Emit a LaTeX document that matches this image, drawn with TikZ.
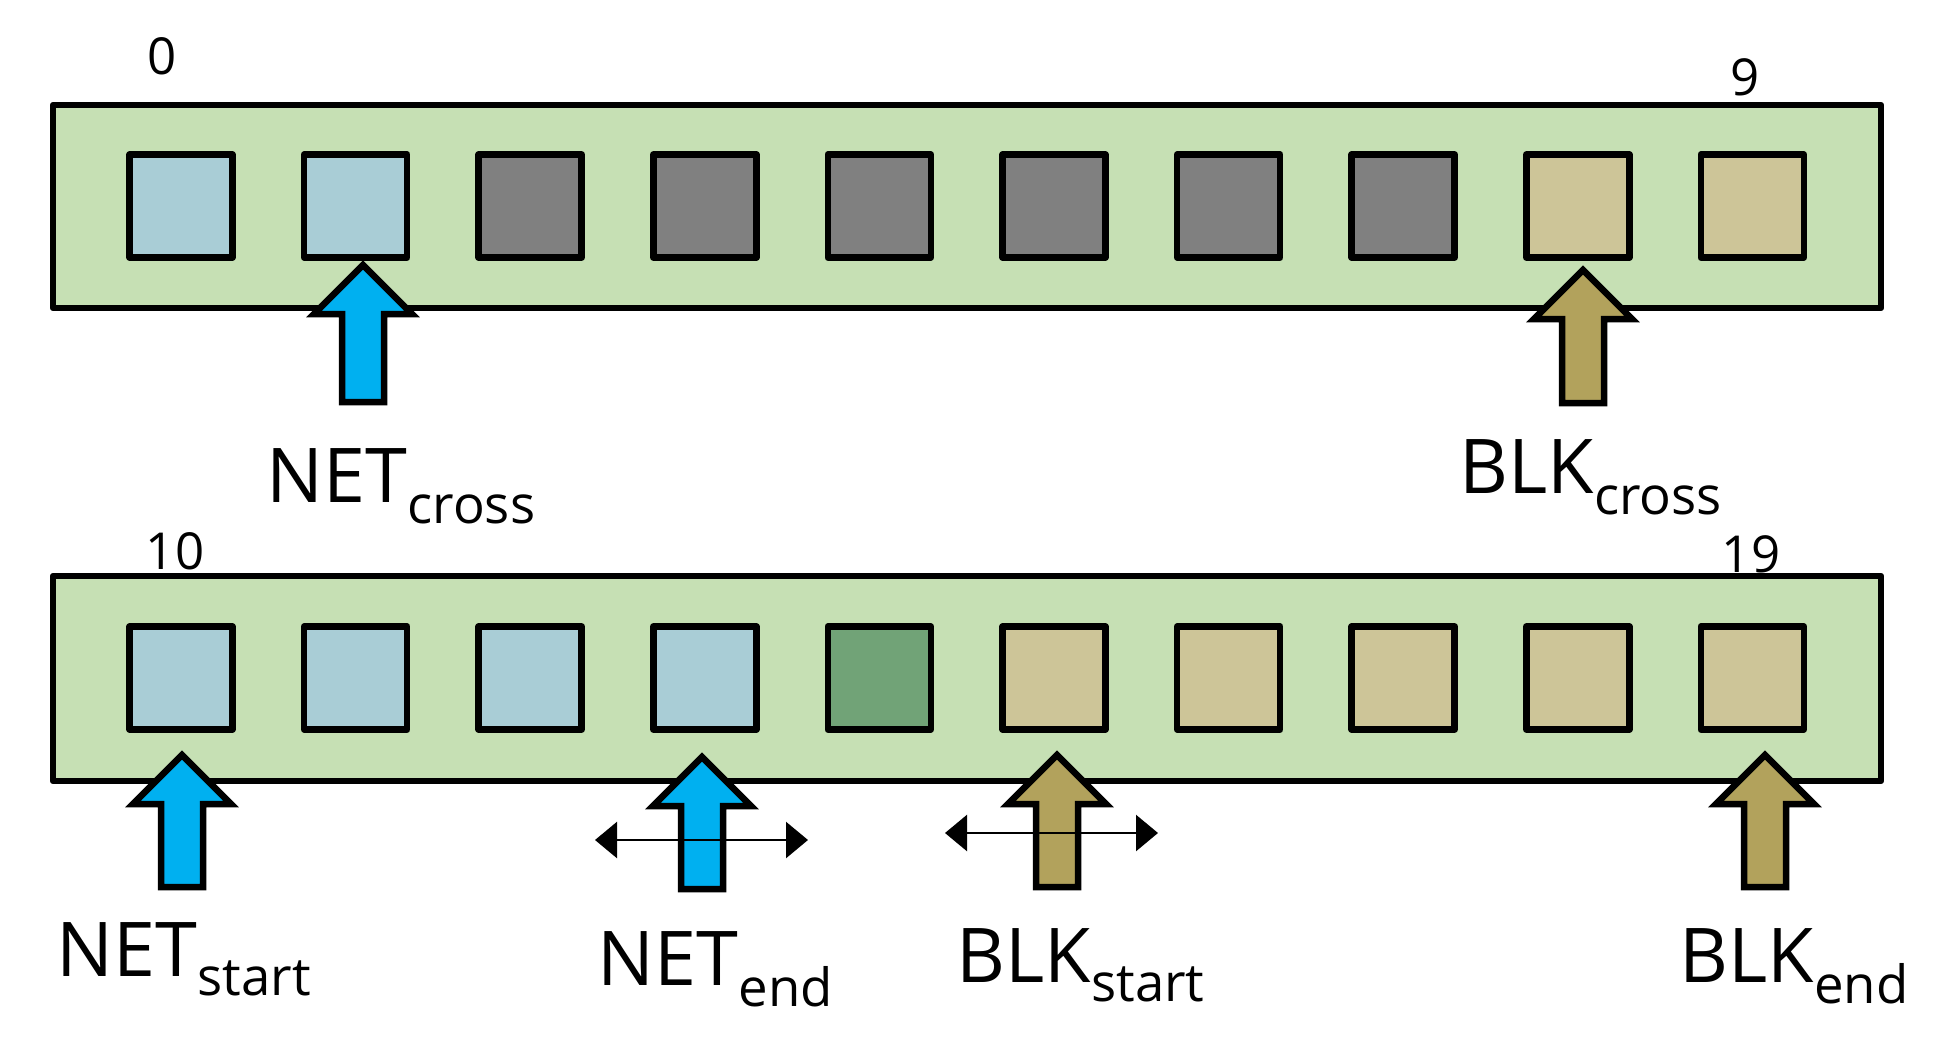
\documentclass[tikz,border=0pt]{standalone}
\usepackage{fontspec}
\setmainfont{Open Sans}
\usetikzlibrary{arrows.meta}

\definecolor{rowgreen}{HTML}{C6E0B4}
\definecolor{netcell}{HTML}{A9CDD6}
\definecolor{blkcell}{HTML}{CDC598}
\definecolor{midcell}{HTML}{71A377}
\definecolor{freecell}{HTML}{808080}
\definecolor{netarrow}{HTML}{00B0F0}
\definecolor{blkarrow}{HTML}{B2A25C}

% block arrow: x of tip, y of tip, y of tail, fill colour
\newcommand{\upblock}[4]{%
  \draw[blockline, fill=#4] (#1,#2) -- ++(49,49) -- ++(-28,0) -- ++(0,{#3-#2-49})
    -- ++(-42,0) -- ++(0,{-(#3-#2-49)}) -- ++(-28,0) -- cycle;}

\begin{document}
\begin{tikzpicture}[x=0.1mm, y=-0.1mm,
    bank/.style={draw, line width=0.65mm, line join=round, fill=rowgreen},
    cell/.style={draw, line width=0.65mm, line join=round, minimum size=10.3mm, inner sep=0pt},
    blockline/.style={line width=0.65mm, line join=miter},
    idx/.style={font=\fontsize{14.5}{17}\selectfont, inner sep=0pt},
    lbl/.style={font=\fontsize{21.5}{26}\selectfont, anchor=base west, inner sep=0pt},
    move/.style={line width=0.7pt, {Triangle[length=2.2mm,width=3.6mm]}-{Triangle[length=2.2mm,width=3.6mm]}}]
    \useasboundingbox (0,0) rectangle (1943,1058);

    % Rangées
    \draw[bank] (53,105) rectangle (1881,308);
    \draw[bank] (53,576) rectangle (1881,781);

    % Cases 0-9
    \foreach \i/\c in {0/netcell,1/netcell,2/freecell,3/freecell,4/freecell,
                       5/freecell,6/freecell,7/freecell,8/blkcell,9/blkcell}
        \node[cell, fill=\c] (c\i) at ({181+174.6*\i},206) {};

    % Cases 10-19
    \foreach \i/\c in {0/netcell,1/netcell,2/netcell,3/netcell,4/midcell,
                       5/blkcell,6/blkcell,7/blkcell,8/blkcell,9/blkcell}
        \node[cell, fill=\c] (c1\i) at ({181+174.6*\i},678) {};

    % Indices
    \node[idx] (i0) at (162,56) {0};
    \node[idx] (i9) at (1745,77) {9};
    \node[idx] (i10) at (175,551) {10};
    \node[idx] (i19) at (1751,554) {19};

    % Flèches
    \upblock{363}{265}{402}{netarrow}
    \upblock{1583}{270}{403}{blkarrow}
    \upblock{182}{755}{887}{netarrow}
    \upblock{702}{757}{889}{netarrow}
    \upblock{1057}{755}{887}{blkarrow}
    \upblock{1765}{755}{887}{blkarrow}

    % Déplacements
    \coordinate (ne-l) at (595,840);
    \coordinate (ne-r) at (808,840);
    \coordinate (bs-l) at (945,833);
    \coordinate (bs-r) at (1158,833);
    \draw[move] (ne-l) -- (ne-r);
    \draw[move] (bs-l) -- (bs-r);

    % Étiquettes
    \node[lbl] (netcross) at (266,502) {NET\raisebox{-2.1mm}{\fontsize{15}{18}\selectfont cross}};
    \node[lbl] (blkcross) at (1459,493) {BLK\raisebox{-2.1mm}{\fontsize{15}{18}\selectfont cross}};
    \node[lbl] (netstart) at (56,976) {NET\raisebox{-1.9mm}{\fontsize{15}{18}\selectfont start}};
    \node[lbl] (netend) at (597,985) {NET\raisebox{-2.1mm}{\fontsize{15}{18}\selectfont end}};
    \node[lbl] (blkstart) at (956,982) {BLK\raisebox{-1.9mm}{\fontsize{15}{18}\selectfont start}};
    \node[lbl] (blkend) at (1679,982) {BLK\raisebox{-2.1mm}{\fontsize{15}{18}\selectfont end}};
\end{tikzpicture}
\end{document}
